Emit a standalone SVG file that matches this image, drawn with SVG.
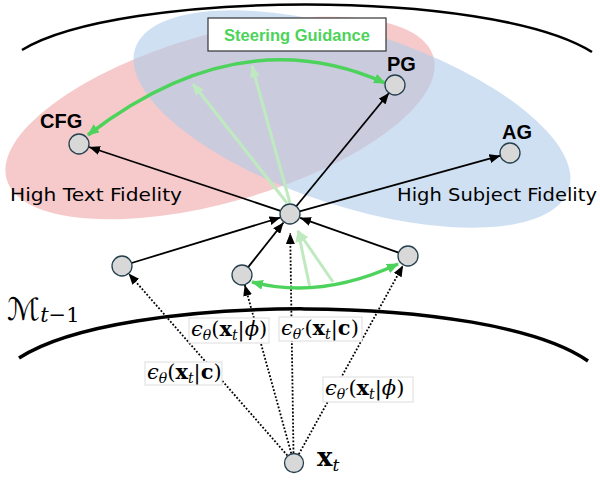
<svg xmlns="http://www.w3.org/2000/svg" width="600" height="480" viewBox="0 0 600 480">
<defs>
<style>
.node{fill:#d8d8d8;stroke:#24404f;stroke-width:1.3}
.blk{stroke:#000;stroke-width:1.8;fill:none;marker-end:url(#ah)}
.dot{stroke:#000;stroke-width:1.8;stroke-dasharray:1.8 1.8;fill:none;marker-end:url(#ah)}
.grn{stroke:#4dd35b;stroke-width:3.5;fill:none;marker-end:url(#gh);marker-start:url(#gh)}
.pale{stroke:#bfeabf;stroke-width:3;fill:none}
.tag{font-family:"Liberation Sans",Arial,sans-serif;font-weight:bold;font-size:20px;fill:#000}
.fid{font-family:"DejaVu Sans",sans-serif;font-size:17px;fill:#000}
.math{font-family:"DejaVu Serif","Liberation Serif",serif;font-size:21px;fill:#000}
.sub{font-size:14px;font-style:italic}
.lbox{fill:#fff;stroke:#dddddd;stroke-width:1}
</style>
<marker id="ah" viewBox="0 0 11 9" refX="11" refY="4.5" markerWidth="11" markerHeight="9" markerUnits="userSpaceOnUse" orient="auto"><path d="M0,0 L11,4.5 L0,9 z" fill="#000"/></marker>
<marker id="gh" viewBox="0 0 12 10" refX="11" refY="5" markerWidth="12" markerHeight="10" markerUnits="userSpaceOnUse" orient="auto-start-reverse"><path d="M0,0 L12,5 L0,10 z" fill="#4dd35b"/></marker>
<marker id="ph" viewBox="0 0 12 10" refX="11" refY="5" markerWidth="12" markerHeight="10" markerUnits="userSpaceOnUse" orient="auto"><path d="M0,0 L12,5 L0,10 z" fill="#bfeabf"/></marker>
</defs>

<!-- regions -->
<ellipse cx="220" cy="118" rx="222" ry="84" transform="rotate(-16 220 118)" fill="#f6cacb"/>
<ellipse cx="352" cy="119" rx="228" ry="87" transform="rotate(18 352 119)" fill="#afcbeb" opacity="0.6"/>

<!-- manifolds -->
<path d="M22,50 C120,-10 490,-12 592,52" fill="none" stroke="#000" stroke-width="2.5"/>
<path d="M19,358 C120,292 490,292 588,361" fill="none" stroke="#000" stroke-width="3.5"/>

<text x="7" y="320" font-family="DejaVu Serif,DejaVu Sans,serif" font-size="31" font-style="italic">ℳ<tspan font-size="21" dy="2">t</tspan><tspan font-size="21" font-style="normal">−1</tspan></text>

<g id="steering-box">
<rect x="208" y="18" width="178" height="33" fill="#fff" stroke="#333" stroke-width="1.2"/>
<text x="297" y="41" text-anchor="middle" font-family="Liberation Sans,Arial,sans-serif" font-weight="bold" font-size="16.5" fill="#4dd35b">Steering Guidance</text>
</g>

<text class="fid" x="10" y="201" textLength="172" lengthAdjust="spacingAndGlyphs">High Text Fidelity</text>
<text class="fid" x="397" y="201" textLength="200" lengthAdjust="spacingAndGlyphs">High Subject Fidelity</text>

<g id="connectors">
<line class="pale" x1="287" y1="203" x2="193" y2="84" marker-end="url(#ph)"/>
<line class="pale" x1="290" y1="203" x2="252" y2="66" marker-end="url(#ph)"/>
<line class="pale" x1="310" y1="288" x2="298" y2="231" marker-end="url(#ph)"/>
<line class="pale" x1="333" y1="282" x2="298" y2="231" marker-end="url(#ph)"/>
<line class="blk" x1="280.5" y1="210.8" x2="89" y2="147"/>
<line class="blk" x1="296.3" y1="206.2" x2="389" y2="93"/>
<line class="blk" x1="299.6" y1="211.3" x2="500.5" y2="155.7"/>
<line class="blk" x1="131.6" y1="263" x2="280.5" y2="217.5"/>
<line class="blk" x1="248.2" y1="267.1" x2="283.5" y2="222.5"/>
<line class="blk" x1="398.6" y1="252.6" x2="300" y2="217.8"/>
<line class="dot" x1="287.4" y1="455.5" x2="128.6" y2="273.5"/>
<line class="dot" x1="291.3" y1="453.4" x2="244.7" y2="284.8"/>
<line class="dot" x1="293.5" y1="453" x2="290.2" y2="233"/>
<line class="dot" x1="298.8" y1="454.2" x2="403" y2="265.5"/>
<path class="grn" d="M88,135 Q240,18 385,83"/>
<path class="grn" d="M252,282 Q320,300 398,264"/>
</g>

<g id="labels">
<rect class="lbox" x="145" y="362" width="77" height="23"/>
<text class="math" x="147" y="379"><tspan font-style="italic">ϵ</tspan><tspan class="sub" dy="4">θ</tspan><tspan dy="-4">(</tspan><tspan font-weight="bold">x</tspan><tspan class="sub" dy="4">t</tspan><tspan dy="-4">|</tspan><tspan font-weight="bold">c</tspan>)</text>
<rect class="lbox" x="189" y="318" width="80" height="25"/>
<text class="math" x="191" y="336"><tspan font-style="italic">ϵ</tspan><tspan class="sub" dy="4">θ</tspan><tspan dy="-4">(</tspan><tspan font-weight="bold">x</tspan><tspan class="sub" dy="4">t</tspan><tspan dy="-4">|</tspan><tspan font-style="italic">ϕ</tspan>)</text>
<rect class="lbox" x="279" y="317" width="83" height="24"/>
<text class="math" x="281" y="335"><tspan font-style="italic">ϵ</tspan><tspan class="sub" dy="4">θ′</tspan><tspan dy="-4">(</tspan><tspan font-weight="bold">x</tspan><tspan class="sub" dy="4">t</tspan><tspan dy="-4">|</tspan><tspan font-weight="bold">c</tspan>)</text>
<rect class="lbox" x="323" y="377" width="90" height="25"/>
<text class="math" x="325" y="395"><tspan font-style="italic">ϵ</tspan><tspan class="sub" dy="4">θ′</tspan><tspan dy="-4">(</tspan><tspan font-weight="bold">x</tspan><tspan class="sub" dy="4">t</tspan><tspan dy="-4">|</tspan><tspan font-style="italic">ϕ</tspan>)</text>
</g>

<g id="node-cfg"><circle class="node" cx="79" cy="144" r="10"/><text class="tag" x="40" y="128">CFG</text></g>
<g id="node-pg"><circle class="node" cx="395" cy="85" r="10"/><text class="tag" x="387" y="71">PG</text></g>
<g id="node-ag"><circle class="node" cx="510" cy="153" r="10"/><text class="tag" x="502" y="139">AG</text></g>
<g id="node-center"><circle class="node" cx="290" cy="214" r="10"/></g>
<g id="node-left"><circle class="node" cx="122" cy="266" r="10"/></g>
<g id="node-midleft"><circle class="node" cx="242" cy="275" r="10"/></g>
<g id="node-right"><circle class="node" cx="408" cy="256" r="10"/></g>
<g id="node-xt"><circle class="node" cx="294" cy="463" r="9.5"/>
<text x="317" y="466" font-family="DejaVu Serif,Liberation Serif,serif" font-size="26" font-weight="bold">x<tspan font-size="17" font-weight="normal" font-style="italic" dy="5">t</tspan></text></g>
</svg>
